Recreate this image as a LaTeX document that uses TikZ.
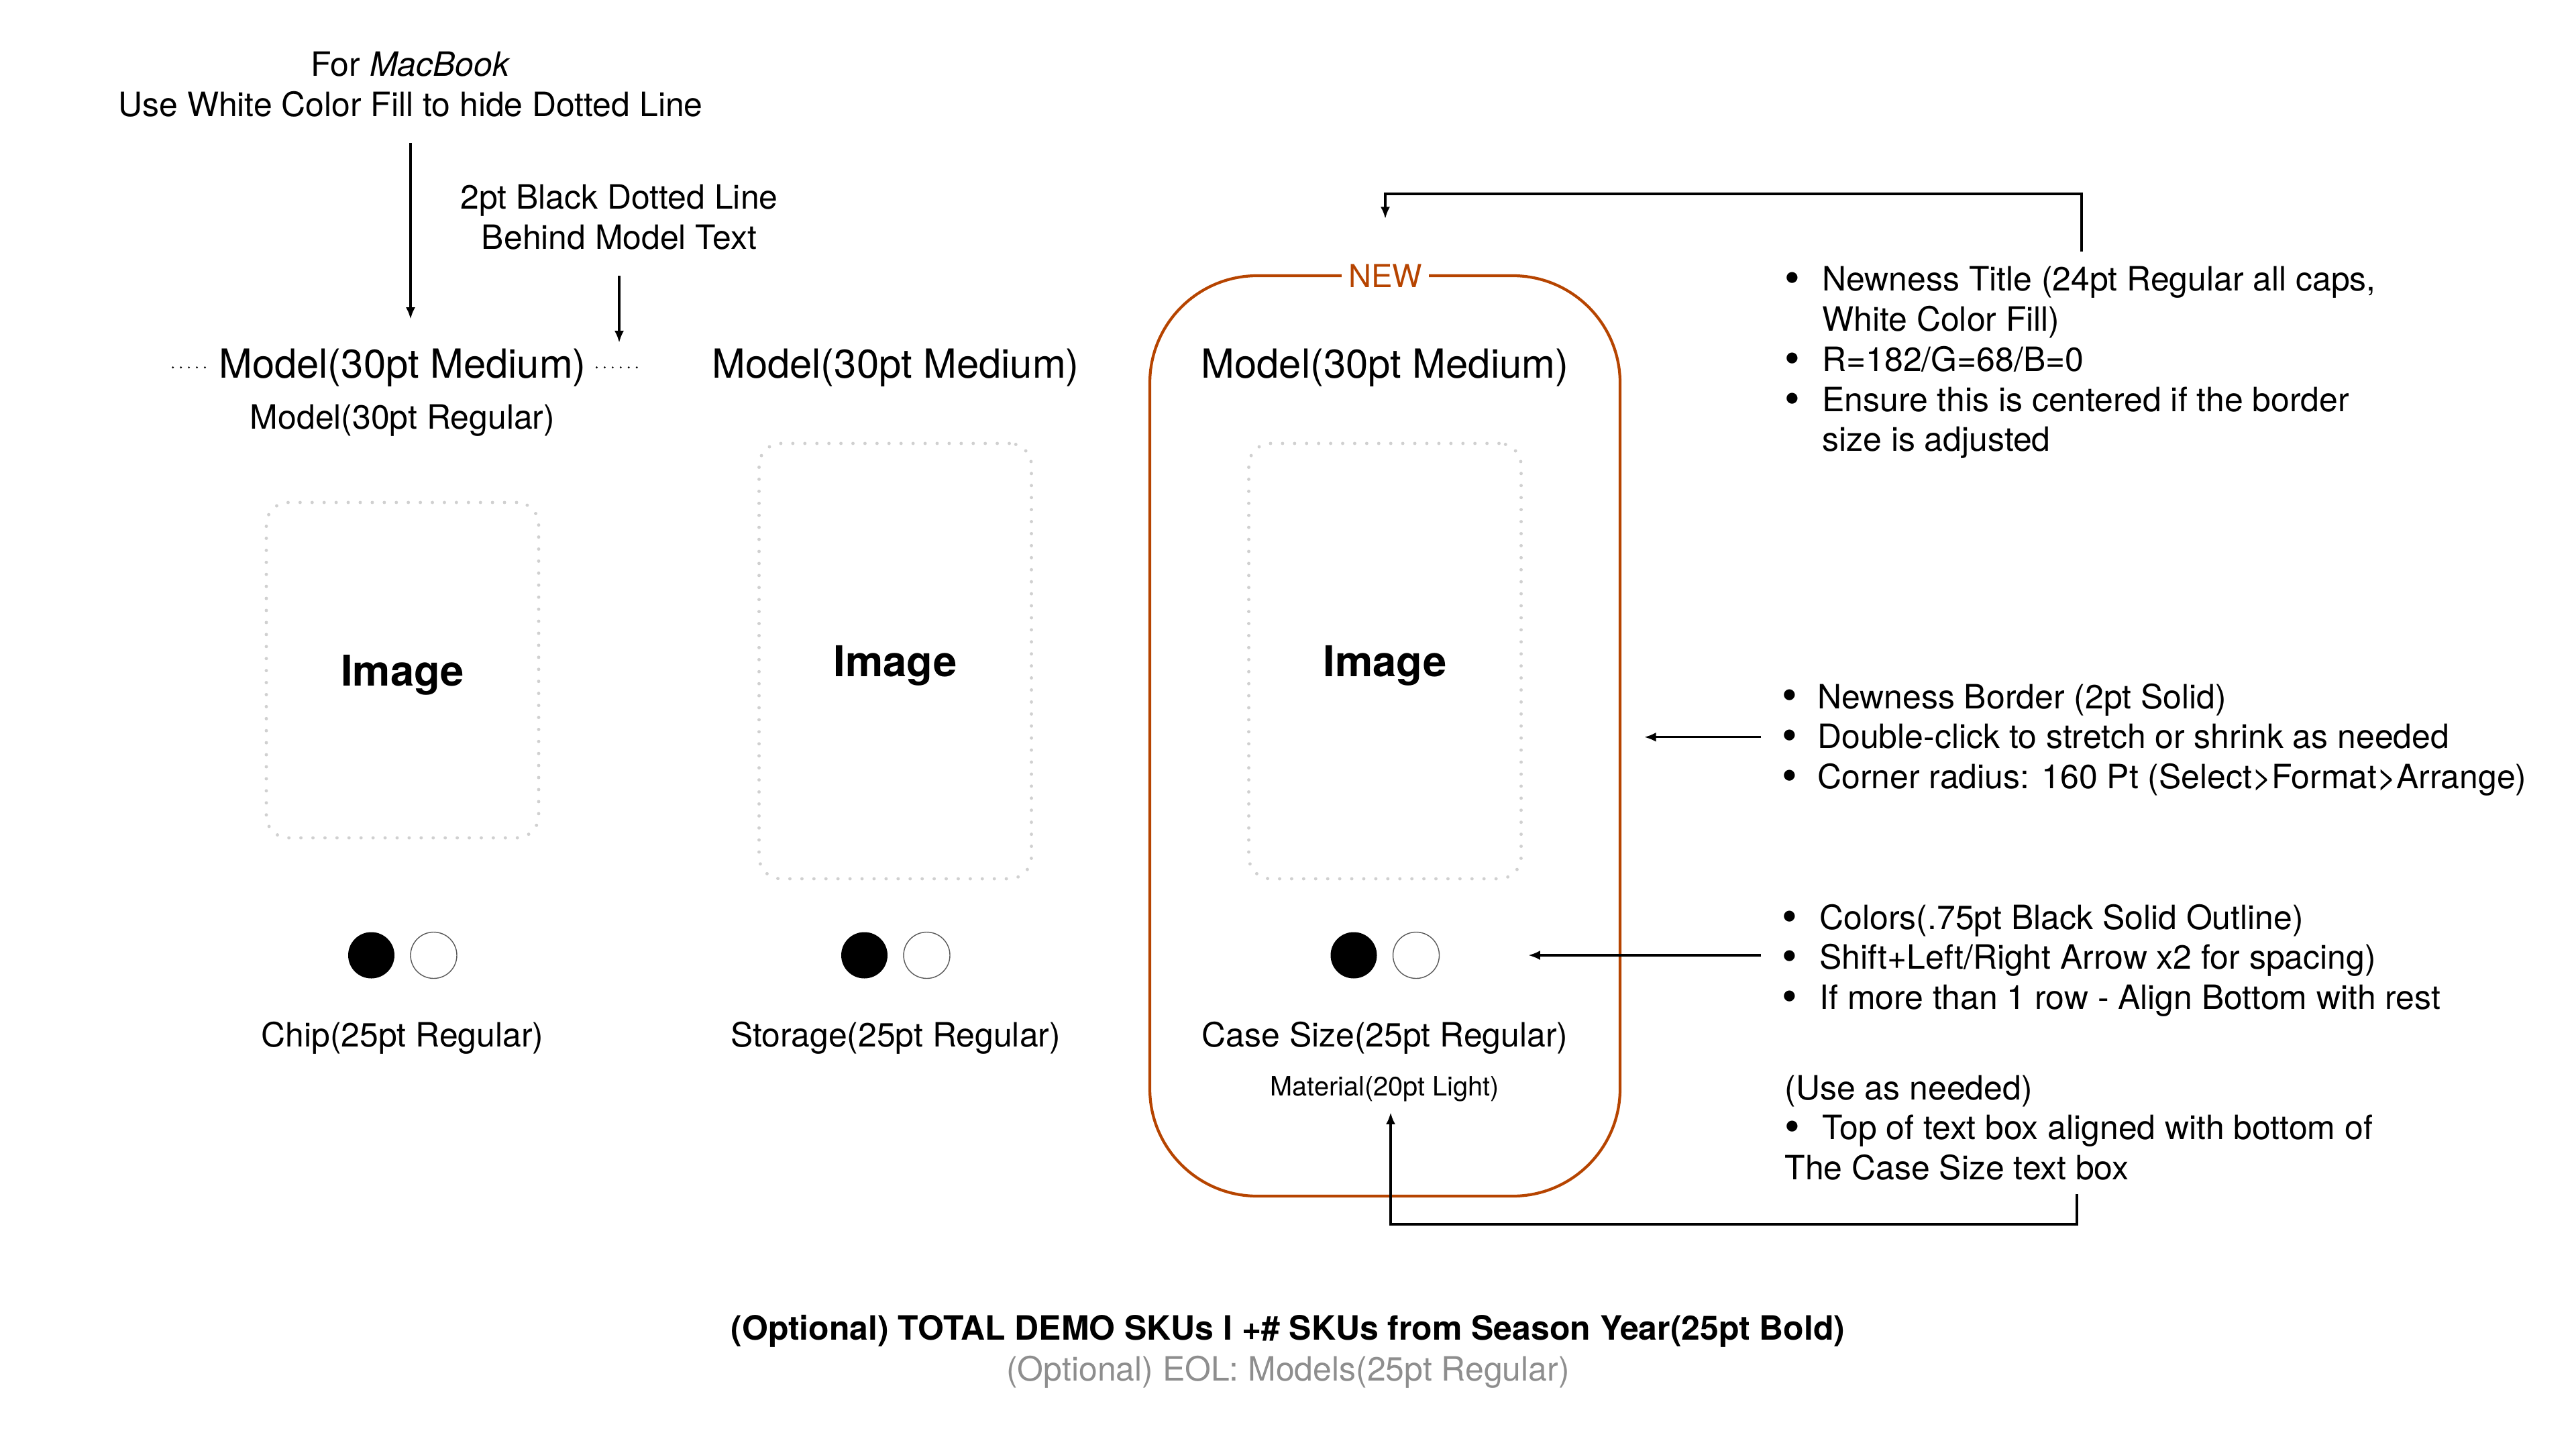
\documentclass[tikz,border=0pt]{standalone}
\usepackage{fontspec}
\setmainfont{TeX Gyre Heros}
\usetikzlibrary{calc, positioning, arrows.meta}
\definecolor{newred}{RGB}{182,68,0}
\definecolor{phgray}{RGB}{208,208,208}
\definecolor{eolgray}{RGB}{142,142,142}
\newcommand{\bodyfont}{\fontsize{14.2pt}{17pt}\selectfont}
\newcommand{\modelfont}{\fontsize{17pt}{20pt}\selectfont}
\newcommand{\bul}{\raisebox{-0.06em}{\scalebox{1.3}{\textbullet}}}

\begin{document}
\begin{tikzpicture}[
  txt/.style={inner sep=0pt, anchor=base, font=\bodyfont},
  modeltxt/.style={inner sep=0pt, anchor=base, font=\modelfont},
  note/.style={inner sep=0pt, anchor=base west, font=\bodyfont},
  imgbox/.style={draw=phgray, line width=1.4pt, dash pattern=on 0pt off 5.1pt, line cap=round,
    rounded corners=0.33cm, minimum width=4.06cm, inner sep=0pt, text depth=0pt,
    font=\fontsize{18pt}{21pt}\selectfont\bfseries},
  swatch/.style={circle, inner sep=0pt, minimum size=0.69cm},
  pointer/.style={-{Latex[length=5pt,width=4pt]}, line width=0.9pt},
  tinydots/.style={line width=0.9pt, dash pattern=on 0pt off 3.4pt, line cap=round},
]
  \useasboundingbox (0,0) rectangle (38.4,-21.6);

  % Newness border
  \node[draw=newred, line width=1.2pt, rounded corners=1.6cm, inner sep=0pt,
    minimum width=7.01cm, minimum height=13.72cm] (frame) at (20.645,-10.97) {};
  \node[txt, font=\fontsize{13.4pt}{16pt}\selectfont, text=newred, fill=white,
    inner xsep=0.1cm, inner ysep=0.03cm] (new) at (20.65,-4.29) {NEW};

  % Model titles
  \foreach \i/\x in {1/6.00, 2/13.35, 3/20.645} {
    \node[modeltxt] (model\i) at (\x,-5.63) {Model(30pt Medium)};
  }
  \node[txt] (regular1) at (6.00,-6.40) {Model(30pt Regular)};
  \draw[tinydots] ([xshift=-0.2cm]model1.west) -- ++(-0.5,0);
  \draw[tinydots] ([xshift=0.15cm]model1.east) -- ++(0.6,0);

  % Image placeholders
  \foreach \i/\x/\y/\h in {1/6.00/-9.99/5.00, 2/13.345/-9.855/6.49, 3/20.645/-9.855/6.49} {
    \node[imgbox, minimum height=\h cm] (img\i) at (\x,\y) {Image};
  }

  % Color swatches
  \foreach \i/\x in {1/6.00, 2/13.35, 3/20.645} {
    \node[swatch, fill=black] (swA\i) at (\x-0.465,-14.24) {};
    \node[swatch, draw=black!65, line width=0.4pt, fill=white] (swB\i) at (\x+0.465,-14.24) {};
  }

  % Size labels
  \foreach \i/\x/\t in {1/6.00/Chip, 2/13.35/Storage, 3/20.645/Case Size} {
    \node[txt] (size\i) at (\x,-15.60) {\t(25pt Regular)};
  }
  \node[txt, font=\fontsize{11.3pt}{14pt}\selectfont] (material) at (20.64,-16.33) {Material(20pt Light)};

  % Notes on the left
  \node[txt] (macnote) at (6.12,-1.14)
    {\begin{tabular}[t]{@{}c@{}}For \textit{MacBook}\\Use White Color Fill to hide Dotted Line\end{tabular}};
  \node[txt] (dotnote) at (9.23,-3.12)
    {\begin{tabular}[t]{@{}c@{}}2pt Black Dotted Line\\Behind Model Text\end{tabular}};

  % Notes on the right
  \node[note] (note1) at (26.60,-4.34)
    {\begin{tabular}[t]{@{}l@{\hspace{0.33cm}}l@{}}
      \bul & Newness Title (24pt Regular all caps,\\
           & White Color Fill)\\
      \bul & R=182/G=68/B=0\\
      \bul & Ensure this is centered if the border\\
           & size is adjusted
    \end{tabular}};
  \node[note] (note2) at (26.56,-10.56)
    {\begin{tabular}[t]{@{}l@{\hspace{0.30cm}}l@{}}
      \bul & Newness Border (2pt Solid)\\
      \bul & Double-click to stretch or shrink as needed\\
      \bul & Corner radius: 160 Pt (Select>Format>Arrange)
    \end{tabular}};
  \node[note] (note3) at (26.56,-13.85)
    {\begin{tabular}[t]{@{}l@{\hspace{0.33cm}}l@{}}
      \bul & Colors(.75pt Black Solid Outline)\\
      \bul & Shift+Left/Right Arrow x2 for spacing)\\
      \bul & If more than 1 row - Align Bottom with rest
    \end{tabular}};
  \node[note] (note4) at (26.60,-16.39)
    {\begin{tabular}[t]{@{}l@{\hspace{0.33cm}}l@{}}
      \multicolumn{2}{@{}l@{}}{(Use as needed)}\\
      \bul & Top of text box aligned with bottom of\\
      \multicolumn{2}{@{}l@{}}{The Case Size text box}
    \end{tabular}};

  % Footer
  \node[txt, font=\bodyfont\bfseries] (total) at (19.20,-19.97)
    {(Optional) TOTAL DEMO SKUs I +\# SKUs from Season Year(25pt Bold)};
  \node[txt, text=eolgray] (eol) at ($(total.base)+(0,-0.61)$) {(Optional) EOL: Models(25pt Regular)};

  % Connectors
  \draw[pointer, shorten <=0.21cm, shorten >=0.43cm] (macnote.south) -- (macnote.south |- model1.north);
  \draw[pointer, shorten <=0.21cm, shorten >=0.08cm] (dotnote.south) -- (dotnote.south |- model1.north);
  \coordinate (hookTop) at (31.03,-2.89);
  \draw[pointer, shorten <=0.16cm, shorten >=0.65cm] (note1.north -| hookTop) -- (hookTop) -| (new.north);
  \draw[pointer, shorten <=0.31cm, shorten >=0.34cm] ([yshift=0.05cm]note2.west) -- ([yshift=0.05cm]note2.west -| frame.east);
  \draw[pointer, shorten <=0.31cm, shorten >=1.32cm] (note3.west |- swB3.east) -- (swB3.east);
  \coordinate (hookBot) at (30.96,-18.25);
  \draw[pointer, shorten <=0.03cm, shorten >=0.16cm] (note4.south -| hookBot) -- (hookBot) -| ([xshift=0.09cm]material.south);
\end{tikzpicture}
\end{document}
